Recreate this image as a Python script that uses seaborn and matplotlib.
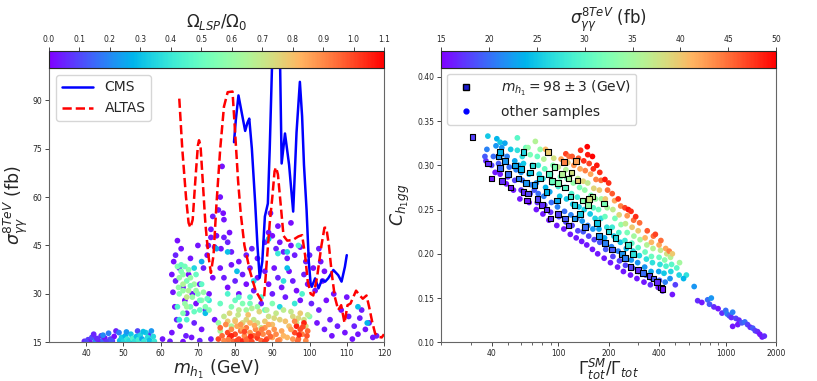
import numpy as np
import pandas as pd
import seaborn as sns
import matplotlib
matplotlib.use("Agg")
import matplotlib.pyplot as plt
from matplotlib.colors import Normalize
from matplotlib.cm import ScalarMappable
from matplotlib.lines import Line2D

### datos: limites de exclusion ###
cms_mass = [79.7, 80.2, 80.9, 81.8, 82.7, 83.3, 83.8, 84.5, 85.4, 86.0, 86.6, 87.3, 88.0, 88.8,
            89.3, 89.9, 91.0, 92.1, 92.5, 93.4, 94.5, 95.6, 96.5, 97.4, 98.0, 98.5, 99.2, 99.8,
            100.3, 100.6, 101.5, 102.4, 103.3, 104.2, 105.0, 106.4, 107.7, 108.6, 109.5, 110.0]
cms_sigma = [77.0, 84.0, 91.5, 86.0, 80.5, 83.0, 84.3, 75.0, 58.0, 45.0, 35.0, 40.0, 54.0, 58.0,
             75.0, 100.0, 118.0, 100.0, 70.4, 79.7, 70.0, 55.5, 80.0, 95.7, 85.0, 70.0, 56.0, 40.0,
             33.0, 32.2, 34.8, 31.7, 34.3, 33.8, 34.8, 37.4, 35.8, 33.8, 38.4, 42.0]

atlas_mass = [65.0, 65.8, 66.8, 67.5, 68.0, 68.6, 69.3, 70.0, 70.3, 70.7, 71.3, 72.0, 72.8, 73.5,
              74.2, 75.0, 76.0, 77.0, 78.0, 79.3, 80.0, 80.8, 81.5, 82.5, 84.0, 85.5, 87.0, 87.8,
              88.5, 89.3, 90.0, 90.6, 91.0, 91.5, 92.3, 93.0, 94.0, 95.5, 97.0, 98.0, 98.8, 99.5,
              100.3, 101.0, 102.0, 103.2, 104.0, 104.5, 105.2, 106.0, 106.8, 107.7, 108.5, 109.4,
              110.2, 111.0, 112.5, 113.5, 114.3, 115.3, 116.0, 116.8, 117.6, 118.5, 119.4, 120.0]
atlas_sigma = [90.5, 75.0, 60.0, 52.0, 50.5, 53.0, 65.0, 76.0, 77.6, 76.0, 65.0, 52.0, 42.0, 36.5,
               42.0, 58.0, 75.0, 88.0, 92.5, 92.7, 80.0, 65.0, 55.0, 45.0, 37.0, 31.0, 28.0, 29.0,
               40.0, 52.0, 60.0, 68.0, 69.2, 67.0, 57.0, 48.0, 46.5, 46.7, 47.8, 48.2, 42.0, 34.0,
               30.0, 29.5, 35.0, 45.0, 50.5, 50.5, 45.0, 36.0, 29.0, 25.0, 26.5, 21.0,
               26.5, 27.0, 31.0, 29.5, 28.5, 29.5, 26.0, 21.5, 17.8, 16.7, 16.5, 17.5]

### datos: puntos panel izquierdo (m_h1, sigma, omega) ###
left_low_mass = [(39.5, 15.3, .05), (40.5, 15.8, .08), (41, 15.2, .03), (41.5, 16.5, .1), (42, 17.5, .05),
                 (42.5, 15.5, .2), (43, 16, .12), (43.5, 15.3, .04), (44, 17, .06), (44.5, 15.6, .15),
                 (45, 16.3, .03), (45.5, 15.2, .08), (46, 17.8, .18), (46.5, 16, .1), (47, 15.4, .05),
                 (47.5, 16.8, .02), (44.5, 17.2, .2), (40, 15.2, .1), (42.8, 16.2, .06), (46.8, 15.5, .12),
                 (48, 18.5, .05), (48.8, 18, .18), (52.2, 15.8, .1), (53.8, 18.5, .1), (56.8, 17.2, .05)]
left_cyan = [(49, 15.5, .3), (49.5, 16.5, .33), (50, 15.2, .35), (50.5, 17, .28), (51, 16, .4),
             (51.5, 15.4, .36), (52, 17.5, .32), (52.5, 16.2, .45), (53, 15.3, .38), (53.5, 16.8, .3),
             (54, 15.8, .42), (54.5, 17.2, .35), (55, 16, .25), (55.5, 15.3, .4), (56, 18, .33),
             (56.5, 16.5, .37), (57, 15.6, .3), (57.5, 18.5, .22), (58, 16.8, .36), (58.3, 15.3, .4),
             (55.3, 18.3, .3), (50.8, 18.2, .22)]
left_purple = [(63, 36, .03), (63.5, 40, .02), (64, 42, .05), (64.5, 46.5, .02), (64, 34, .04),
               (63.3, 30.5, .03), (63.8, 26, .02), (64.3, 22, .05), (63, 18, .03), (65, 38, .04),
               (65.5, 44, .03), (66, 32, .05), (66.5, 28, .02), (65.2, 20, .03), (66.8, 17, .04),
               (67, 24, .05), (67.5, 36, .02), (68, 41, .03), (68.5, 30, .04), (69, 21, .05),
               (69.5, 27, .02), (70, 45, .03), (70.5, 33, .04), (71, 19, .03), (71.5, 38, .04),
               (72, 25, .05), (72.5, 42, .02), (73, 30, .03), (73.5, 16, .04), (74, 35, .02),
               (74.5, 22, .03), (68.3, 16.5, .03), (70.5, 15.5, .05), (66, 15.2, .02), (62.5, 15.3, .04),
               (60.5, 16, .03),
               (76.5, 69.5, .03), (76, 60, .03), (75.5, 56, .04), (76.8, 55, .02), (77, 53, .03),
               (74, 54, .04), (73.5, 50, .03), (75, 48, .02), (77, 47.5, .04), (78, 46, .05),
               (76.2, 44, .03), (74.5, 44.5, .05), (79, 43, .04), (78.5, 49, .02), (73.5, 47.5, .03),
               (72.8, 45, .04), (81, 40, .03), (83, 42, .04), (84.5, 44, .05), (86, 41, .03),
               (88, 46, .04), (89, 49, .03), (90, 48, .02), (91, 44, .05), (92, 46, .03),
               (93, 43, .04), (94, 41, .03), (95, 45, .02), (96, 42, .04), (97.5, 44.5, .03),
               (99, 40, .04), (100, 42, .05), (101, 38, .03), (102.5, 44, .04), (103, 40, .03),
               (104, 37, .02), (89.5, 55, .04), (91.5, 51, .03), (95, 52, .02),
               (76, 38, .03), (77, 35, .04), (78, 32, .02), (79, 39, .03), (80, 34, .05),
               (81, 30, .03), (82, 36, .04), (83, 33, .02), (84, 38, .03), (85, 31, .04),
               (86, 35, .03), (87, 27, .04), (88, 37, .03), (89, 33, .02), (90, 30, .04),
               (90.5, 38, .03), (91.5, 35, .05), (92.5, 32, .03), (93.5, 29, .04), (94.5, 37, .03),
               (95.5, 34, .04), (96.5, 31, .02), (97.5, 28, .03), (98.5, 36, .04), (99.5, 33, .03),
               (100.5, 27, .05), (101.5, 31, .03), (102.5, 25, .04), (103.5, 34, .03), (104.5, 28, .02),
               (105.5, 22, .04), (106.5, 30, .03), (107.5, 20, .04), (108.5, 25, .02), (109.5, 18, .03),
               (110.5, 23, .04), (111.5, 16, .03), (112, 20, .05), (113, 17.5, .03), (114, 25, .04),
               (115, 19, .03), (116, 21, .04), (117, 16.5, .03), (118, 17, .04), (110, 29, .03),
               (113.5, 22.5, .04), (106, 17, .03), (104, 19, .04), (102, 21, .03)]
left_green = [(64.5, 38.5, .55), (65.5, 39, .5), (66.5, 38.5, .52), (65, 35, .6), (66, 36, .58),
              (67, 34, .55), (68, 35, .6), (69, 33, .62), (65, 30, .57), (66, 31, .6),
              (67.5, 31, .65), (68.5, 29, .6), (70, 30, .55), (71, 28, .58), (66.5, 27, .6),
              (68, 26, .52), (70.5, 25, .5), (72, 26, .55), (64.5, 26, .45), (67, 29, .7),
              (69.5, 36, .5), (71, 33, .48), (66, 33, .65), (69, 38, .35), (72, 24, .3),
              (71, 40, .25), (73, 28, .4), (67, 22, .45), (65, 22, .4),
              (65.5, 37, .55), (67.5, 37.5, .58), (64.8, 32, .6), (68, 32.5, .55), (69.5, 31, .6),
              (70.5, 28, .52), (67, 26, .62), (69, 24.5, .5), (71.5, 30.5, .6), (72.5, 28.5, .5),
              (66, 24, .55), (73, 25, .55),
              (75, 44, .25), (78, 43, .3), (91.5, 42.5, .4), (94, 43, .35), (89, 47, .3),
              (97, 45, .45), (80.5, 37, .3),
              (78, 30, .45), (80, 28, .5), (82, 27, .55), (84, 29, .45), (86, 26, .6),
              (88, 25, .5), (90, 27, .55), (92, 26, .35), (94, 38, .3), (96, 27, .4),
              (98, 30, .45), (83, 25, .62), (85, 34, .35), (93, 34, .38), (113, 26, .3),
              (115.5, 21, .28), (100, 23, .55), (76, 27, .5), (79, 26, .55), (81, 29, .48),
              (84, 27, .52), (87, 29, .45)]
left_yellow = [(77, 23, .7), (78.5, 24, .75), (80, 22, .72), (81, 25, .68), (82, 21, .75),
               (83.5, 23.5, .8), (85, 22, .7), (86.5, 24.5, .75), (88, 21.5, .78), (89, 23, .72),
               (90, 20.5, .8), (91, 24, .7), (92, 22, .76), (93, 25, .68), (94.5, 20, .8),
               (95.5, 23, .74), (96.5, 21, .7), (97.5, 24, .78), (98.5, 22, .72), (79, 20, .65),
               (87, 19.5, .7), (99, 20, .75), (75.5, 21, .6), (76, 18.5, .65),
               (78, 21.5, .78), (80.8, 23.5, .7), (83, 22, .75), (86, 21, .72), (88.5, 25, .66),
               (90.5, 22.5, .74), (93.5, 21.5, .8), (95, 24.5, .7), (97, 22.5, .75), (99.5, 23.5, .68),
               (84.5, 25.5, .66), (81.5, 19.5, .76)]
left_red = [(75.5, 16, 1.0), (76.5, 17, .95), (77, 15.5, .9), (78, 18, 1.0), (78.5, 16.5, 1.05),
            (79, 19, .9), (79.5, 15.3, .95), (80, 17.5, 1.0), (80.5, 20, .85), (81, 16, 1.0),
            (81.5, 18.5, .95), (82, 15.4, 1.05), (82.5, 17, .9), (83, 19.5, .92), (83.5, 16, 1.0),
            (84, 18, .88), (84.5, 15.2, 1.0), (85, 17, .95), (85.5, 19, .9), (86, 16.3, 1.02),
            (86.5, 18, .85), (87, 15.5, .95), (87.5, 17.5, .9), (88, 19.5, .88), (88.5, 16, 1.0),
            (89, 18, .92), (90, 16.5, .85), (91, 17.5, .9), (92, 15.8, .88), (93, 17, .82),
            (96, 18, 1.0), (96.5, 20, 1.05), (97, 16, .95), (97.5, 19, 1.0), (98, 17.5, .92),
            (98.5, 21, 1.05), (99, 15.5, .9), (99.5, 18.5, .95), (95.5, 16, .88), (96, 21.5, .9),
            (80, 21.5, .8), (84, 21, .82), (82, 19, .85),
            (76, 19.5, .95), (77.5, 20.5, .9), (79, 17, 1.05), (80.5, 15.5, 1.0), (81.5, 20.5, .88),
            (82.5, 18.3, 1.0), (83, 15.8, .95), (84.2, 16.8, 1.05), (85.2, 20.2, .85), (86.2, 17.6, .98),
            (87.2, 19, .92), (88, 15.3, 1.02), (89, 20.5, .85), (89.5, 16.8, .95), (90.5, 19, .88),
            (91.5, 15.5, .92), (92.5, 18.5, .85), (94, 16.5, .82), (95, 19, .86), (97.2, 17.3, 1.05),
            (98.2, 19.8, 1.0), (99.3, 17, .98), (96.8, 15.3, .95), (78.2, 15.8, .92)]

### datos: puntos panel derecho (Gamma_SM/Gamma, C_h1gg, sigma) ###
right_band = [(37, .305, 17), (37.5, .318, 21), (38, .333, 25), (36.5, .31, 19),
              (42, .292, 16), (41, .31, 20), (42.5, .322, 22), (43, .33, 24), (40, .3, 18),
              (45, .29, 16), (44, .302, 19), (46, .312, 22), (45, .326, 25),
              (49, .279, 16), (50, .287, 17), (51, .298, 20), (49.5, .31, 21), (52, .318, 25),
              (57, .331, 30), (46, .32, 22), (48, .325, 23),
              (54, .272, 16), (55, .283, 18), (56, .295, 21), (55, .305, 23), (57, .317, 27),
              (59, .262, 16), (60, .272, 17), (61, .283, 20), (60, .292, 22), (62, .302, 25),
              (61, .31, 27), (64, .32, 31), (73, .327, 36), (58, .3, 23),
              (67, .258, 16), (68, .268, 18), (69, .278, 21), (67, .29, 24), (70, .3, 27),
              (68, .312, 32), (66, .32, 34),
              (74, .25, 16), (75, .258, 17), (76, .268, 20), (74, .28, 22), (77, .29, 26),
              (76, .3, 28), (75, .31, 31), (78, .318, 34), (72, .272, 19),
              (81, .245, 16), (83, .255, 18), (82, .265, 21), (84, .275, 24), (81, .285, 27),
              (83, .296, 31), (82, .307, 36), (84, .318, 41),
              (88, .238, 16), (90, .247, 17), (91, .258, 20), (89, .27, 23), (92, .28, 27),
              (90, .29, 30), (93, .3, 33), (88, .315, 42), (94, .308, 38),
              (98, .232, 16), (101, .242, 18), (99, .253, 21), (102, .265, 25), (100, .276, 28),
              (103, .287, 32), (100, .298, 37), (104, .307, 42),
              (108, .228, 16), (111, .236, 18), (109, .248, 20), (112, .262, 25), (110, .275, 28),
              (113, .285, 31), (111, .295, 36), (114, .303, 40), (111, .313, 47), (116, .31, 45),
              (118, .222, 16), (121, .232, 18), (119, .244, 21), (122, .256, 25), (120, .268, 29),
              (123, .28, 34), (120, .29, 38), (124, .3, 43), (121, .31, 46),
              (128, .218, 16), (131, .226, 18), (129, .24, 21), (133, .253, 25), (130, .264, 28),
              (134, .275, 32), (131, .285, 37), (135, .296, 42), (132, .308, 46), (136, .317, 48),
              (138, .214, 16), (141, .225, 19), (139, .237, 22), (143, .25, 26), (140, .26, 29),
              (144, .272, 34), (141, .282, 39), (145, .294, 44), (142, .305, 48),
              (148, .21, 16), (152, .22, 18), (150, .232, 21), (155, .245, 25), (152, .256, 28),
              (157, .266, 32), (150, .28, 37), (156, .29, 42), (153, .302, 47), (150, .312, 49),
              (149, .321, 50),
              (160, .205, 16), (164, .216, 18), (161, .228, 22), (166, .24, 26), (162, .252, 30),
              (167, .262, 34), (163, .274, 39), (168, .284, 44), (162, .296, 48), (160, .31, 50),
              (172, .2, 16), (177, .213, 19), (175, .228, 23), (180, .24, 27), (174, .25, 31),
              (181, .262, 35), (176, .272, 40), (180, .283, 45), (177, .292, 48), (170, .3, 49),
              (188, .195, 16), (192, .205, 19), (189, .218, 23), (195, .23, 27), (190, .242, 31),
              (196, .252, 35), (191, .262, 40), (197, .272, 45), (190, .284, 49),
              (205, .19, 16), (212, .197, 18), (208, .208, 21), (215, .22, 25), (210, .23, 28),
              (218, .24, 32), (212, .25, 37), (217, .26, 42), (210, .268, 46), (200, .28, 48),
              (226, .185, 16), (232, .192, 18), (228, .203, 21), (235, .213, 25), (230, .224, 29),
              (237, .233, 34), (231, .244, 39), (236, .254, 44), (228, .262, 48),
              (245, .18, 16), (252, .187, 18), (248, .196, 21), (255, .206, 24), (250, .215, 28),
              (258, .224, 32), (252, .234, 37), (258, .243, 43), (250, .252, 47), (262, .25, 49),
              (270, .176, 16), (278, .184, 19), (273, .193, 22), (280, .203, 26), (275, .212, 30),
              (283, .22, 35), (276, .23, 40), (282, .238, 45), (272, .248, 48),
              (295, .172, 16), (302, .18, 19), (298, .19, 22), (305, .198, 26), (300, .207, 30),
              (308, .216, 35), (300, .226, 40), (306, .235, 45), (290, .242, 48),
              (325, .168, 16), (333, .176, 19), (328, .185, 22), (336, .194, 27), (330, .202, 31),
              (338, .21, 36), (330, .218, 41), (340, .226, 46),
              (355, .165, 17), (362, .172, 19), (358, .18, 23), (365, .19, 27), (360, .197, 31),
              (368, .206, 36), (360, .213, 41), (370, .22, 45), (380, .222, 47),
              (395, .162, 16), (402, .17, 19), (398, .18, 23), (405, .188, 27), (400, .196, 31),
              (408, .204, 37), (400, .21, 42), (410, .215, 45),
              (420, .158, 17), (480, .154, 16), (435, .168, 21), (428, .178, 25), (440, .186, 29),
              (432, .193, 33), (445, .2, 38), (438, .206, 42), (460, .203, 44),
              (465, .172, 22), (470, .18, 26), (475, .188, 30), (468, .196, 36), (480, .2, 40),
              (500, .165, 18), (527, .176, 26), (510, .184, 30), (530, .19, 35),
              (582, .176, 27), (648, .163, 22), (560, .172, 24)]
right_tail = [(680, .147, 17), (720, .145, 16), (780, .148, 20), (820, .15, 22), (800, .143, 19),
              (850, .14, 17), (900, .138, 16), (950, .133, 17), (1000, .136, 20), (1020, .132, 21),
              (1050, .13, 19), (1080, .128, 17), (1100, .134, 21), (1150, .127, 18), (1200, .125, 17),
              (1180, .12, 16), (1250, .122, 19), (1300, .123, 20), (1350, .12, 18), (1400, .117, 17),
              (1450, .116, 19), (1500, .113, 18), (1550, .112, 17), (1600, .109, 16), (1650, .106, 16),
              (1700, .107, 17), (1100, .118, 16)]
right_squares = [(30.7, .332, 18), (38, .302, 17), (40, .285, 16), (44, .31, 22), (45, .297, 20),
                 (46, .282, 17), (48, .305, 22), (50, .29, 20), (52, .275, 16), (55, .3, 23),
                 (58, .285, 21), (60, .296, 24), (62, .27, 17), (64, .28, 22), (66, .268, 18),
                 (68, .292, 25), (72, .278, 22), (75, .262, 18), (78, .285, 26), (80, .255, 17),
                 (85, .27, 24), (88, .29, 30), (92, .282, 31), (95, .298, 33), (98, .26, 23),
                 (100, .28, 33), (105, .29, 36), (110, .275, 30), (115, .285, 35), (120, .292, 38),
                 (128, .305, 42), (130, .283, 40), (118, .265, 28), (125, .24, 22), (140, .26, 33),
                 (150, .255, 34), (160, .265, 36), (135, .245, 25), (145, .23, 20), (170, .235, 25),
                 (175, .22, 22), (190, .212, 21), (200, .225, 27), (210, .205, 19), (220, .218, 26),
                 (240, .2, 22), (250, .195, 21), (260, .21, 28), (270, .185, 18), (280, .2, 27),
                 (300, .182, 17), (320, .178, 20), (350, .175, 18), (370, .172, 19), (390, .168, 17),
                 (410, .162, 16), (420, .16, 16), (100, .245, 18), (110, .24, 19), (115, .232, 18),
                 (85, .25, 17), (65, .26, 16), (90, .24, 17), (125, .255, 26), (70, .3, 27),
                 (62, .315, 26), (45, .315, 24), (87, .315, 40), (108.6, .304, 44), (153, .262, 38),
                 (188, .257, 32)]

left = pd.DataFrame(left_low_mass + left_cyan + left_purple + left_green + left_yellow + left_red,
                    columns=['mh1', 'sigma', 'omega'])
right = pd.DataFrame(right_band + right_tail, columns=['ratio', 'chgg', 'sigma'])
squares = pd.DataFrame(right_squares, columns=['ratio', 'chgg', 'sigma'])

### figura ###
sns.set_style("ticks")
plt.rcParams['font.family'] = ['DejaVu Sans']
plt.rcParams['mathtext.fontset'] = 'dejavusans'

fig = plt.figure(figsize=(8.17, 3.81), dpi=100)
ax1 = fig.add_axes([0.060, 0.1016, 0.410, 0.720])
cax1 = fig.add_axes([0.060, 0.822, 0.410, 0.044])
ax2 = fig.add_axes([0.540, 0.1016, 0.410, 0.720])
cax2 = fig.add_axes([0.540, 0.822, 0.410, 0.044])

# panel izquierdo
sns.scatterplot(data=left, x='mh1', y='sigma', hue='omega', palette='rainbow', hue_norm=(0, 1.1),
                s=17, linewidth=0, legend=False, ax=ax1, zorder=2)
sns.lineplot(x=cms_mass, y=cms_sigma, sort=False, estimator=None, color='blue', lw=1.8,
             label='CMS', ax=ax1, zorder=3)
sns.lineplot(x=atlas_mass, y=atlas_sigma, sort=False, estimator=None, color='red', lw=1.8,
             linestyle='--', label='ALTAS', ax=ax1, zorder=3)
ax1.set_xlim(30, 120)
ax1.set_ylim(15, 100)
ax1.set_xticks(range(40, 121, 10))
ax1.set_yticks([15, 30, 45, 60, 75, 90])
ax1.set_xlabel(r'$m_{h_1}$ (GeV)', fontsize=12.5, labelpad=0)
ax1.set_ylabel(r'$\sigma^{8TeV}_{\gamma\gamma}$ (fb)', fontsize=12.5, labelpad=2)
ax1.legend(loc='upper left', fontsize=10, handlelength=2.3, borderaxespad=0.5)

sm1 = ScalarMappable(norm=Normalize(0, 1.1), cmap='rainbow')
cb1 = fig.colorbar(sm1, cax=cax1, orientation='horizontal')
cb1.set_ticks(np.arange(0, 1.11, 0.1))
cb1.set_ticklabels(['%.1f' % v for v in np.arange(0, 1.11, 0.1)])
cax1.xaxis.set_ticks_position('top')
cax1.xaxis.set_label_position('top')
cb1.set_label(r'$\Omega_{LSP}/\Omega_0$', fontsize=12, labelpad=6)

# panel derecho
sns.scatterplot(data=right, x='ratio', y='chgg', hue='sigma', palette='rainbow', hue_norm=(15, 50),
                s=17, linewidth=0, legend=False, ax=ax2, zorder=2)
sns.scatterplot(data=squares, x='ratio', y='chgg', hue='sigma', palette='rainbow', hue_norm=(15, 50),
                marker='s', s=16, edgecolor='black', linewidth=0.8, legend=False, ax=ax2, zorder=3)
ax2.set_xscale('log')
ax2.set_xlim(20, 2000)
ax2.set_ylim(0.10, 0.41)
ax2.set_xticks([40, 100, 200, 400, 1000, 2000])
ax2.set_xticklabels(['40', '100', '200', '400', '1000', '2000'])
ax2.set_yticks(np.arange(0.10, 0.401, 0.05))
ax2.set_yticklabels(['%.2f' % v for v in np.arange(0.10, 0.401, 0.05)])
ax2.set_xlabel(r'$\Gamma^{SM}_{tot}/\Gamma_{tot}$', fontsize=12, labelpad=-1)
ax2.set_ylabel(r'$C_{h_1gg}$', fontsize=12.5, labelpad=4)
handles = [Line2D([], [], marker='s', ls='', color='#1a1acc', markeredgecolor='black', markersize=4),
           Line2D([], [], marker='o', ls='', color='blue', markersize=3.5)]
ax2.legend(handles, [r'$m_{h_1} = 98 \pm 3$ (GeV)', 'other samples'], loc='upper left',
           fontsize=10, handletextpad=1.5, borderaxespad=0.4)

sm2 = ScalarMappable(norm=Normalize(15, 50), cmap='rainbow')
cb2 = fig.colorbar(sm2, cax=cax2, orientation='horizontal')
cb2.set_ticks(range(15, 51, 5))
cax2.xaxis.set_ticks_position('top')
cax2.xaxis.set_label_position('top')
cb2.set_label(r'$\sigma^{8TeV}_{\gamma\gamma}$ (fb)', fontsize=12, labelpad=8)

for a in [ax1, ax2, cax1, cax2]:
    a.tick_params(labelsize=5.5, length=3, width=0.6, pad=2)
    for sp in a.spines.values():
        sp.set_linewidth(0.8)
for a in [ax1, ax2]:
    for sp in a.spines.values():
        sp.set_color('0.4')
ax2.tick_params(which='minor', length=2, width=0.5)

fig.savefig('out.png', dpi=100)
